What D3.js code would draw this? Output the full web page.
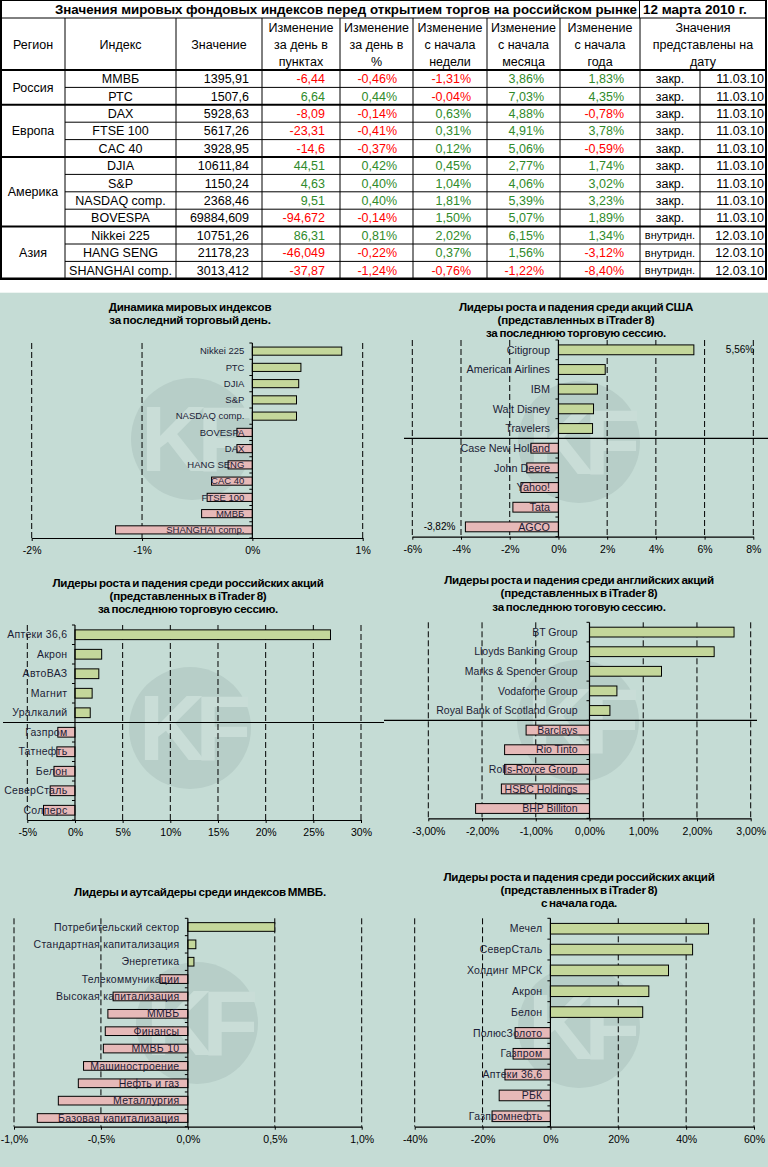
<!DOCTYPE html>
<html><head><meta charset="utf-8">
<script src="https://cdn.jsdelivr.net/npm/d3@7/dist/d3.min.js"></script>
<style>
body{margin:0;background:#fff}
svg{display:block;font-family:Arial,"Liberation Sans",sans-serif}
</style>
</head><body>
<svg id="c" width="768" height="1167"></svg>
<script>
// ================= TABLE DATA =================
const tableTitle = "Значения мировых фондовых индексов перед открытием торгов на российском рынке";
const tableDate = "12 марта 2010 г.";
const headers = [["Регион"],["Индекс"],["Значение"],["Изменение","за день в","пунктах"],["Изменение","за день в","%"],["Изменение","с начала","недели"],["Изменение","с начала","месяца"],["Изменение","с начала","года"],["Значения","представлены на","дату"]];
const regions = ["Россия","Европа","Америка","Азия"];
const regionSizes = [2,3,4,3];
const indexNames = ["ММВБ","РТС","DAX","FTSE 100","CAC 40","DJIA","S&P","NASDAQ comp.","BOVESPA","Nikkei 225","HANG SENG","SHANGHAI comp."];
const indexValues = ["1395,91","1507,6","5928,63","5617,26","3928,95","10611,84","1150,24","2368,46","69884,609","10751,26","21178,23","3013,412"];
const chgPoints = ["-6,44","6,64","-8,09","-23,31","-14,6","44,51","4,63","9,51","-94,672","86,31","-46,049","-37,87"];
const chgDay = ["-0,46%","0,44%","-0,14%","-0,41%","-0,37%","0,42%","0,40%","0,40%","-0,14%","0,81%","-0,22%","-1,24%"];
const chgWeek = ["-1,31%","-0,04%","0,63%","0,31%","0,12%","0,45%","1,04%","1,81%","1,50%","2,02%","0,37%","-0,76%"];
const chgMonth = ["3,86%","7,03%","4,88%","4,91%","5,06%","2,77%","4,06%","5,39%","5,07%","6,15%","1,56%","-1,22%"];
const chgYear = ["1,83%","4,35%","-0,78%","3,78%","-0,59%","1,74%","3,02%","3,23%","1,89%","1,34%","-3,12%","-8,40%"];
const quoteType = ["закр.","закр.","закр.","закр.","закр.","закр.","закр.","закр.","закр.","внутридн.","внутридн.","внутридн."];
const quoteDate = ["11.03.10","11.03.10","11.03.10","11.03.10","11.03.10","11.03.10","11.03.10","11.03.10","11.03.10","12.03.10","12.03.10","12.03.10"];

// ================= CHART DATA =================
const c1Title = ["Динамика мировых индексов","за последний торговый день."];
const c1Labels = ["Nikkei 225","РТС","DJIA","S&P","NASDAQ comp.","BOVESPA","DAX","HANG SENG","CAC 40","FTSE 100","ММВБ","SHANGHAI comp."];
const c1Values = [0.81,0.44,0.42,0.40,0.40,-0.14,-0.14,-0.22,-0.37,-0.41,-0.46,-1.24];
const c1Ticks = [-2,-1,0,1];
const c1TickLabels = ["-2%","-1%","0%","1%"];

const c2Title = ["Лидеры роста и падения среди акций США","(представленных в iTrader 8)","за последнюю торговую сессию."];
const c2Labels = ["Citigroup","American Airlines","IBM","Walt Disney","Travelers","Case New Holland","John Deere","Yahoo!","Tata","AGCO"];
const c2Values = [5.56,1.92,1.60,1.44,1.40,-1.13,-1.30,-1.54,-1.87,-3.82];
const c2Ticks = [-6,-4,-2,0,2,4,6,8];
const c2TickLabels = ["-6%","-4%","-2%","0%","2%","4%","6%","8%"];
const c2Notes = ["5,56%","-3,82%"];

const c3Title = ["Лидеры роста и падения среди российских акций","(представленных в iTrader 8)","за последнюю торговую сессию."];
const c3Labels = ["Аптеки 36,6","Акрон","АвтоВАЗ","Магнит","Уралкалий","Газпром","Татнефть","Белон","СеверСталь","Солперс"];
const c3Values = [26.8,2.8,2.5,1.8,1.6,-1.8,-1.9,-2.2,-2.6,-3.3];
const c3Ticks = [-5,0,5,10,15,20,25,30];
const c3TickLabels = ["-5%","0%","5%","10%","15%","20%","25%","30%"];

const c4Title = ["Лидеры роста и падения среди английских акций","(представленных в iTrader 8)","за последнюю тоговую сессию."];
const c4Labels = ["BT Group","Lloyds Banking Group","Marks & Spencer Group","Vodafome Group","Royal Bank of Scotland Group","Barclays","Rio Tinto","Rolls-Royce Group","HSBC Holdings","BHP Billiton"];
const c4Values = [2.69,2.32,1.34,0.51,0.38,-1.18,-1.58,-1.58,-1.64,-2.12];
const c4Ticks = [-3,-2,-1,0,1,2,3];
const c4TickLabels = ["-3,00%","-2,00%","-1,00%","0,00%","1,00%","2,00%","3,00%"];

const c5Title = ["Лидеры и аутсайдеры среди индексов ММВБ."];
const c5Labels = ["Потребительский сектор","Стандартная капитализация","Энергетика","Телекоммуникации","Высокая капитализация","ММВБ","Финансы","ММВБ 10","Машиностроение","Нефть и газ","Металлургия","Базовая капитализация"];
const c5Values = [0.50,0.046,0.035,-0.16,-0.43,-0.46,-0.475,-0.486,-0.60,-0.63,-0.745,-0.866];
const c5Ticks = [-1,-0.5,0,0.5,1];
const c5TickLabels = ["-1,0%","-0,5%","0,0%","0,5%","1,0%"];

const c6Title = ["Лидеры роста и падения среди российских акций","(представленных в iTrader 8)","с начала года."];
const c6Labels = ["Мечел","СеверСталь","Холдинг МРСК","Акрон","Белон","ПолюсЗолото","Газпром","Аптеки 36,6","РБК","Газпромнефть"];
const c6Values = [46.6,41.9,34.8,29.0,27.2,-10.4,-11.0,-13.4,-15.1,-17.2];
const c6Ticks = [-40,-20,0,20,40,60];
const c6TickLabels = ["-40%","-20%","0%","20%","40%","60%"];

// ================= STYLE =================
const BG = "#c5dcd5", GREEN_BAR = "#c4d79b", PINK_BAR = "#e6b9b8";
const RED_TXT = "#ff0000", GREEN_TXT = "#2f8a2a", LABEL_TXT = "#1c1c36";

const svg = d3.select("#c");

// ================= TABLE =================
(function drawTable(){
  const g = svg.append("g");
  const colX = [1,65,176,262,340,413,487,560,640,700,766];
  const titleH = 18, headTop = 18, headBot = 70, rowH = 17.4;
  const nRows = indexNames.length;
  const rowY = i => headBot + i*rowH;
  const bottom = rowY(nRows);
  const line = (x1,y1,x2,y2,w) => g.append("line").attr("x1",x1).attr("y1",y1).attr("x2",x2).attr("y2",y2).attr("stroke","#000").attr("stroke-width",w);

  g.append("text").attr("x",637).attr("y",titleH/2).attr("dy","0.36em").attr("text-anchor","end")
    .attr("font-weight","bold").attr("font-size",13.5).attr("textLength",582).attr("lengthAdjust","spacingAndGlyphs").text(tableTitle);
  g.append("text").attr("x",643).attr("y",titleH/2).attr("dy","0.36em").attr("font-weight","bold").attr("font-size",13.5).text(tableDate);

  headers.forEach((h,ci)=>{
    const x0 = colX[ci], x1 = ci===8 ? colX[10] : colX[ci+1];
    const cx = (x0+x1)/2, cy = (headTop+headBot)/2;
    const lh = 17;
    h.forEach((t,li)=>{
      g.append("text").attr("x",cx).attr("y",cy + (li-(h.length-1)/2)*lh).attr("dy","0.36em")
        .attr("text-anchor","middle").attr("font-size",12.5).text(t);
    });
  });

  const signColor = s => s.trim().startsWith("-") ? RED_TXT : GREEN_TXT;
  indexNames.forEach((n,i)=>{
    const cy = rowY(i)+rowH/2;
    const t = (x,anchor,txt,col,fs) => g.append("text").attr("x",x).attr("y",cy).attr("dy","0.36em").attr("text-anchor",anchor)
      .attr("font-size",fs||12.5).attr("fill",col||"#000").text(txt);
    t((colX[1]+colX[2])/2,"middle",n);
    t(colX[3]-13,"end",indexValues[i]);
    t(colX[4]-15,"end",chgPoints[i],signColor(chgPoints[i]));
    t(colX[5]-16,"end",chgDay[i],signColor(chgDay[i]));
    t(colX[6]-16,"end",chgWeek[i],signColor(chgWeek[i]));
    t(colX[7]-16,"end",chgMonth[i],signColor(chgMonth[i]));
    t(colX[8]-16,"end",chgYear[i],signColor(chgYear[i]));
    t((colX[8]+colX[9])/2,"middle",quoteType[i],"#000",quoteType[i].length>6?11:12.5);
    t(colX[10]-2,"end",quoteDate[i]);
  });

  let start = 0;
  regions.forEach((r,ri)=>{
    const end = start + regionSizes[ri];
    g.append("text").attr("x",(colX[0]+colX[1])/2).attr("y",(rowY(start)+rowY(end))/2).attr("dy","0.36em")
      .attr("text-anchor","middle").attr("font-size",12.5).text(r);
    for(let k=start+1;k<end;k++) line(colX[1],rowY(k),colX[10],rowY(k),1);
    if(ri<regions.length-1) line(colX[0],rowY(end),colX[10],rowY(end),2);
    start = end;
  });

  for(let c=1;c<colX.length-1;c++){
    if(c===9) line(colX[c],headBot,colX[c],bottom,1);
    else line(colX[c],headTop,colX[c],bottom,1);
  }
  line(639.5,0,639.5,titleH,1);
  line(colX[0],0,colX[0],bottom,2);
  line(colX[10],0,colX[10],bottom,2);
  line(colX[0],0.5,colX[10],0.5,1);
  line(colX[0],titleH,colX[10],titleH,1);
  line(colX[0],headBot,colX[10],headBot,2);
  line(colX[0]-1,bottom,colX[10]+1,bottom,2.5);
})();

// ================= CHART AREA =================
svg.append("rect").attr("x",0).attr("y",292.7).attr("width",768).attr("height",1167-292.7).attr("fill",BG);

function barChart(cfg){
  const g = svg.append("g");
  const x = d3.scaleLinear().domain([cfg.ticks[0], cfg.ticks[cfg.ticks.length-1]]).range(cfg.xr);
  const y = d3.scaleBand().domain(cfg.labels).range(cfg.yr).paddingInner(cfg.pad).paddingOuter(cfg.pad/2);

  // watermark
  const wm = g.append("g").attr("transform",`translate(${cfg.wm[0]},${cfg.wm[1]})`);
  wm.append("circle").attr("r",61).attr("fill","#b7cec8");
  wm.append("text").attr("text-anchor","middle").attr("dy","0.35em").attr("font-size",92).attr("font-weight","bold")
    .attr("fill","#c9ddd7").attr("letter-spacing",-10).text("KF");

  // title
  cfg.title.forEach((t,i)=>{
    g.append("text").attr("x",cfg.titleX).attr("y",cfg.titleY[i]).attr("dy","0.36em").attr("text-anchor","middle")
      .attr("font-size",11.6).attr("font-weight","bold").attr("letter-spacing",-0.25).attr("word-spacing",-1).text(t);
  });

  // grid (dashed)
  g.selectAll(".grid").data(cfg.ticks.filter(d=>d!==0)).join("line")
    .attr("x1",d=>x(d)).attr("x2",d=>x(d)).attr("y1",cfg.yr[0]).attr("y2",cfg.yr[1])
    .attr("stroke","#000").attr("stroke-dasharray","6,3");

  // bars
  g.selectAll(".bar").data(cfg.values).join("rect")
    .attr("x",d=>x(Math.min(0,d))).attr("width",d=>Math.abs(x(d)-x(0)))
    .attr("y",(d,i)=>y(cfg.labels[i])).attr("height",y.bandwidth())
    .attr("fill",d=>d>=0?GREEN_BAR:PINK_BAR).attr("stroke","#000").attr("stroke-width",1);

  // category labels
  g.selectAll(".lab").data(cfg.labels).join("text")
    .attr("x",x(0)-cfg.labOff).attr("y",d=>y(d)+y.bandwidth()/2).attr("dy","0.35em").attr("text-anchor","end")
    .attr("font-size",cfg.labFs).attr("letter-spacing",cfg.labLs||0).attr("fill",LABEL_TXT).text(d=>d);

  // separator
  if(cfg.sep){
    const ys = y(cfg.labels[cfg.sep.index]) - y.step()*y.paddingInner()/2;
    g.append("line").attr("x1",cfg.sep.x[0]).attr("x2",cfg.sep.x[1]).attr("y1",ys).attr("y2",ys).attr("stroke","#000").attr("stroke-width",1.2);
  }

  // zero axis + boundary ticks
  g.append("line").attr("x1",x(0)).attr("x2",x(0)).attr("y1",cfg.yr[0]).attr("y2",cfg.yr[1]).attr("stroke","#000").attr("stroke-width",1.2);
  d3.range(cfg.labels.length+1).forEach(k=>{
    const yy = cfg.yr[0] + k*y.step();
    g.append("line").attr("x1",x(0)-3).attr("x2",x(0)).attr("y1",yy).attr("y2",yy).attr("stroke","#000");
  });

  // x axis
  const ax = g.append("g").attr("transform",`translate(0,${cfg.yr[1]})`)
    .call(d3.axisBottom(x).tickValues(cfg.ticks).tickFormat((d,i)=>cfg.tickLabels[i]).tickSize(3).tickSizeOuter(0).tickPadding(6));
  ax.select(".domain").attr("stroke","#000").attr("stroke-width",1.2);
  ax.selectAll(".tick line").attr("stroke","#000");
  ax.selectAll(".tick text").attr("font-size",10.5).attr("font-family","Arial, 'Liberation Sans', sans-serif").attr("fill","#000");

  // notes
  if(cfg.notes){
    cfg.notes.forEach(n=>{
      g.append("text").attr("x",x(cfg.values[n.i])+n.dx).attr("y",y(cfg.labels[n.i])+y.bandwidth()/2).attr("dy","0.35em")
        .attr("text-anchor",n.anchor).attr("font-size",10).attr("fill","#000").text(n.text);
    });
  }
}

barChart({title:c1Title,labels:c1Labels,values:c1Values,ticks:c1Ticks,tickLabels:c1TickLabels,
  xr:[31.7,362.7],yr:[343,538],pad:0.5,titleX:190,titleY:[307,320],labOff:8,labFs:9.5,wm:[192,439]});

barChart({title:c2Title,labels:c2Labels,values:c2Values,ticks:c2Ticks,tickLabels:c2TickLabels,
  xr:[412.3,753.3],yr:[340,536.7],pad:0.5,titleX:576,titleY:[307,319.5,332.5],labOff:8.5,labFs:10.8,wm:[579,442],
  sep:{index:5,x:[404,768]},
  notes:[{i:0,text:c2Notes[0],dx:32,anchor:"start"},{i:9,text:c2Notes[1],dx:-10,anchor:"end"}]});

barChart({title:c3Title,labels:c3Labels,values:c3Values,ticks:c3Ticks,tickLabels:c3TickLabels,
  xr:[27.3,361],yr:[625,820],pad:0.5,titleX:188,titleY:[583,596,608.5],labOff:7.5,labFs:10.5,labLs:0.3,wm:[190,728],
  sep:{index:5,x:[3,384]}});

barChart({title:c4Title,labels:c4Labels,values:c4Values,ticks:c4Ticks,tickLabels:c4TickLabels,
  xr:[428.3,750.7],yr:[622.3,818.3],pad:0.5,titleX:579,titleY:[580,593,607],labOff:12,labFs:10.5,wm:[578,721],
  sep:{index:5,x:[384,757]}});

barChart({title:c5Title,labels:c5Labels,values:c5Values,ticks:c5Ticks,tickLabels:c5TickLabels,
  xr:[14,361.7],yr:[918.3,1126.7],pad:0.5,titleX:200,titleY:[891.7],labOff:8.5,labFs:10.5,labLs:0.25,wm:[197,1023]});

barChart({title:c6Title,labels:c6Labels,values:c6Values,ticks:c6Ticks,tickLabels:c6TickLabels,
  xr:[414.7,754],yr:[918.3,1126.7],pad:0.49,titleX:579,titleY:[877,890,903],labOff:8,labFs:10.5,labLs:0.25,wm:[579,1027]});
</script>
</body></html>
